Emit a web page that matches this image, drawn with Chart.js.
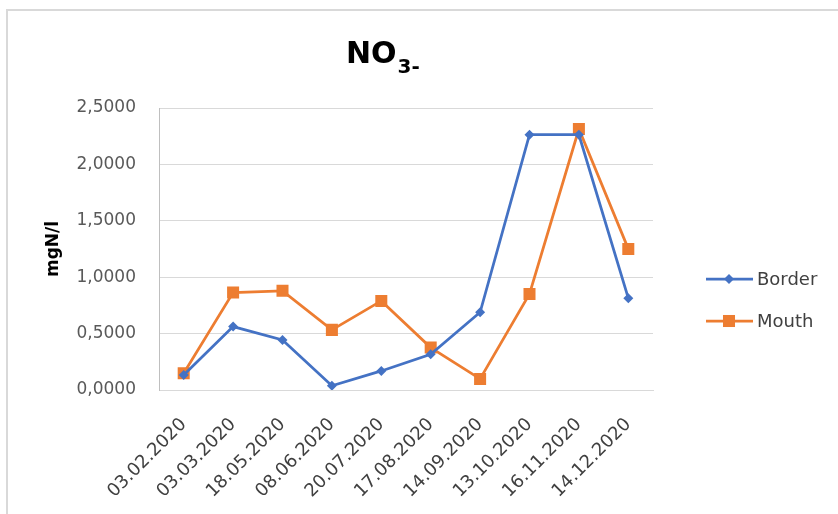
<!DOCTYPE html>
<html>
<head>
<meta charset="utf-8">
<title>NO3- chart</title>
<script src="https://cdn.jsdelivr.net/npm/chart.js@4.4.0/dist/chart.umd.min.js"></script>
<style>
  html, body { margin: 0; padding: 0; background: #fff; }
  #wrap { position: relative; width: 838px; height: 514px; overflow: hidden; }
  #frame {
    position: absolute; left: 6px; top: 9px; width: 900px; height: 600px;
    border-left: 2px solid #d9d9d9; border-top: 2px solid #d9d9d9;
  }
  canvas { position: absolute; left: 0; top: 0; }
</style>
</head>
<body>
<div id="wrap">
  <div id="frame"></div>
  <canvas id="no3Chart" width="838" height="514"></canvas>
</div>
<script>
// ===================== Data =====================
const DATES = [
  "03.02.2020", "03.03.2020", "18.05.2020", "08.06.2020", "20.07.2020",
  "17.08.2020", "14.09.2020", "13.10.2020", "16.11.2020", "14.12.2020",
];
const BORDER = [0.133, 0.562, 0.444, 0.038, 0.169, 0.317, 0.689, 2.263, 2.263, 0.814];
const MOUTH = [0.148, 0.864, 0.879, 0.533, 0.790, 0.376, 0.098, 0.852, 2.314, 1.251];

const Y_MIN = 0;
const Y_MAX = 2.5;
const Y_STEP = 0.5;

const FONT = "'DejaVu Sans', sans-serif";

// ===================== Title / axis title / legend =====================
const decorPlugin = {
  id: "decor",
  afterDraw(chart) {
    const ctx = chart.ctx;
    ctx.save();

    // Title NO3- with subscript
    ctx.fillStyle = "#000";
    ctx.textAlign = "left";
    ctx.textBaseline = "alphabetic";
    ctx.font = `bold 30px ${FONT}`;
    ctx.fillText("NO", 346, 63);
    const w = ctx.measureText("NO").width;
    ctx.font = `bold 20px ${FONT}`;
    ctx.fillText("3-", 346 + w + 1, 73);

    // Y axis title
    ctx.save();
    ctx.translate(54, 249);
    ctx.rotate(-Math.PI / 2);
    ctx.font = `bold 17px ${FONT}`;
    ctx.textAlign = "center";
    ctx.textBaseline = "middle";
    ctx.fillText("mgN/l", 0, 0);
    ctx.restore();

    // Legend
    chart.data.datasets.forEach((ds, i) => {
      const y = 279 + i * 42;
      ctx.strokeStyle = ds.borderColor;
      ctx.lineWidth = 2.75;
      ctx.beginPath();
      ctx.moveTo(706, y);
      ctx.lineTo(753, y);
      ctx.stroke();

      ctx.fillStyle = ds.borderColor;
      ctx.beginPath();
      if (ds.pointStyle === "rectRot") {
        const r = ds.pointRadius;
        ctx.moveTo(729 - r, y);
        ctx.lineTo(729, y - r);
        ctx.lineTo(729 + r, y);
        ctx.lineTo(729, y + r);
        ctx.closePath();
        ctx.fill();
      } else {
        const s = ds.pointRadius * Math.SQRT1_2;
        ctx.fillRect(729 - s, y - s, 2 * s, 2 * s);
      }

      ctx.fillStyle = "#404040";
      ctx.font = `18px ${FONT}`;
      ctx.textAlign = "left";
      ctx.textBaseline = "middle";
      ctx.fillText(ds.label, 757, y + 1);
    });

    ctx.restore();
  },
};

// ===================== Chart =====================
new Chart(document.getElementById("no3Chart").getContext("2d"), {
  type: "line",
  data: {
    labels: DATES,
    datasets: [
      {
        label: "Border",
        data: BORDER,
        borderColor: "#4472C4",
        backgroundColor: "#4472C4",
        borderWidth: 2.75,
        pointStyle: "rectRot",
        pointRadius: 5,
        pointBorderWidth: 0,
        tension: 0,
      },
      {
        label: "Mouth",
        data: MOUTH,
        borderColor: "#ED7D31",
        backgroundColor: "#ED7D31",
        borderWidth: 2.75,
        pointStyle: "rect",
        pointRadius: 8.5,
        pointBorderWidth: 0,
        tension: 0,
      },
    ],
  },
  options: {
    responsive: false,
    animation: false,
    layout: { padding: { top: 108, right: 185, left: 0, bottom: 0 } },
    plugins: {
      legend: { display: false },
      title: { display: false },
      tooltip: { enabled: false },
    },
    scales: {
      x: {
        type: "category",
        offset: true,
        grid: { display: false },
        border: { display: true, color: "#d9d9d9" },
        ticks: {
          minRotation: 45,
          maxRotation: 45,
          autoSkip: false,
          padding: 16,
          color: "#404040",
          font: { family: FONT, size: 18 },
        },
        afterFit(scale) { scale.height = 124; },
      },
      y: {
        min: Y_MIN,
        max: Y_MAX,
        ticks: {
          stepSize: Y_STEP,
          padding: 23,
          color: "#595959",
          font: { family: FONT, size: 17 },
          callback: (v) => Number(v).toFixed(4).replace(".", ","),
        },
        grid: { color: "#d9d9d9", lineWidth: 1, drawTicks: false },
        border: { display: true, color: "#bfbfbf" },
        afterFit(scale) { scale.width = 159; },
      },
    },
  },
  plugins: [decorPlugin],
});
</script>
</body>
</html>
